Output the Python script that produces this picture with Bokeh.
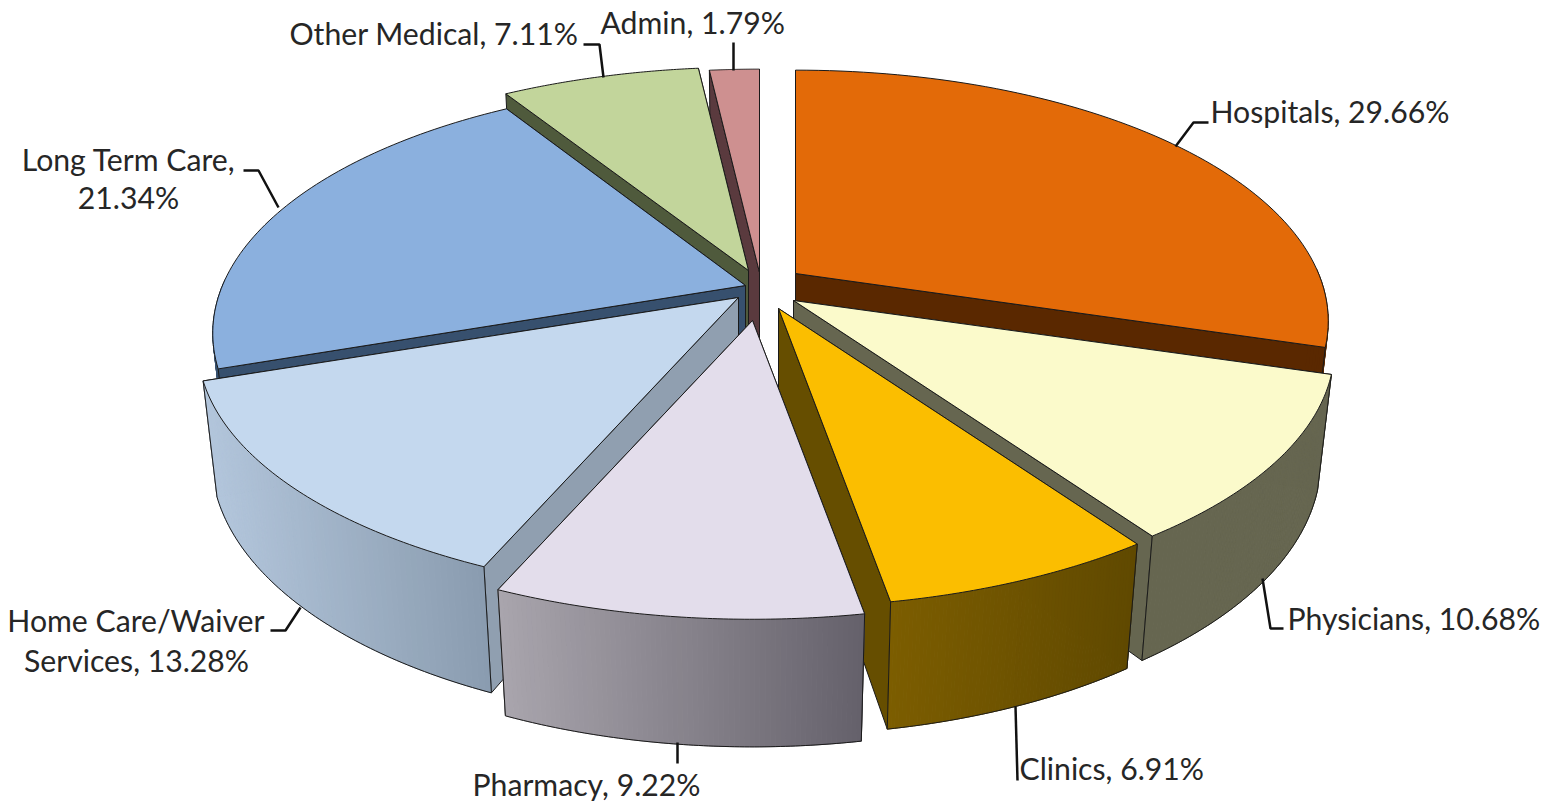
import math
import numpy as np
from bokeh.plotting import figure
from bokeh.embed import file_html
from bokeh.resources import INLINE
from bokeh.core.properties import value

# ---- data
categories = ["Hospitals", "Physicians", "Clinics", "Pharmacy",
              "Home Care/Waiver Services", "Long Term Care", "Other Medical", "Admin"]
shares = [29.66, 10.68, 6.91, 9.22, 13.28, 21.34, 7.11, 1.79]

# ---- style
top_colors = ["#E36A08", "#FBFACB", "#FBBE00", "#E3DDEB", "#C4D8EE", "#8BB0DE", "#C2D59B", "#CE9090"]
cut_colors = ["#5A2800", "#666650", "#664E00", "#6A6670", "#909FB0", "#37506E", "#4F5A3C", "#5A3A3E"]
wall_left  = ["#5A2800", "#666650", "#7C5D00", "#A9A5AD", "#B3C6DC", "#37506E", "#4F5A3C", "#5A3A3E"]
wall_right = ["#5A2800", "#666650", "#604900", "#65616B", "#8A9CAF", "#37506E", "#4F5A3C", "#5A3A3E"]
EDGE = "#1a1a1a"

# ---- layout (picture pixels)
CX, CY = 758, 287
explode = [(37, -14), (35, 13), (20, 21), (-6, 33), (-20, 10), (-13, -2), (-10, -17), (1, -15)]
radius = [0.985, 1.0, 1.0, 1.0, 1.0, 0.985, 1.0, 1.0]
RX, RY, K = 531.0, 242.0, 0.19
D, M = 114.0, 0.025

W, H = 1546, 803
p = figure(width=W, height=H, x_range=(0, W), y_range=(H, 0),
           output_backend="svg", toolbar_location=None, min_border=0,
           outline_line_color=None)
p.axis.visible = False
p.grid.visible = False
p.background_fill_color = "white"


def proj(ax, ay, th, rx=1.0, r=1.0, z=0.0):
    X, Y = r * np.sin(th), r * np.cos(th)
    s = 1.0 / (1.0 + K * Y + M * z)
    return ax + rx * RX * X * s, ay + (-RY * Y + D * z) * s


def mix(c1, c2, t):
    a = [int(c1[i:i + 2], 16) for i in (1, 3, 5)]
    b = [int(c2[i:i + 2], 16) for i in (1, 3, 5)]
    return "#%02x%02x%02x" % tuple(int(round(u + (v - u) * t)) for u, v in zip(a, b))


total = sum(shares)
edges = np.cumsum([0.0] + shares) / total * 2 * math.pi
mids = (edges[:-1] + edges[1:]) / 2
order = sorted(range(len(shares)), key=lambda i: -math.cos(mids[i]))

for i in order:
    a0, a1 = edges[i], edges[i + 1]
    ax, ay = CX + explode[i][0], CY + explode[i][1]
    rx = radius[i]
    th = np.linspace(a0, a1, 73)
    tx, ty = proj(ax, ay, th, rx)
    bx, by = proj(ax, ay, th, rx, z=1.0)
    cbx, cby = proj(ax, ay, 0.0, rx, r=0.0, z=1.0)
    # cut walls, the one facing away first
    for a in sorted((a0, a1), key=lambda v: -math.cos(v)):
        ex, ey = proj(ax, ay, a, rx)
        fx, fy = proj(ax, ay, a, rx, z=1.0)
        p.patch([ax, ex, fx, cbx], [ay, ey, fy, cby], fill_color=cut_colors[i],
                line_color=EDGE, line_width=1)
    # outer wall in strips (front-facing part only) for the left-to-right shading
    front = np.cos(th) < 0.03
    if front.sum() > 1:
        xmin, xmax = tx[front].min(), tx[front].max()
        idx = np.nonzero(front)[0]
        for k in idx[:-1]:
            t = ((tx[k] + tx[k + 1]) / 2 - xmin) / max(xmax - xmin, 1)
            c = mix(wall_left[i], wall_right[i], t)
            p.patch([tx[k], tx[k + 1], bx[k + 1], bx[k]], [ty[k], ty[k + 1], by[k + 1], by[k]],
                    fill_color=c, line_color=c, line_width=1)
        p.line(bx[front], by[front], line_color=EDGE, line_width=1)
        for k in (0, len(th) - 1):
            if front[k]:
                p.line([tx[k], bx[k]], [ty[k], by[k]], line_color=EDGE, line_width=1)
    # top
    p.patch(np.r_[ax, tx], np.r_[ay, ty], fill_color=top_colors[i], line_color=EDGE, line_width=1)

# ---- leader lines and labels
leaders = [
    ([1175, 1193, 1208], [146, 122, 122]),
    ([1262, 1270, 1283], [578, 628, 628]),
    ([1015, 1017], [706, 780]),
    ([677, 677], [742, 763]),
    ([300, 285, 270], [607, 630, 630]),
    ([278, 258, 243], [207, 170, 170]),
    ([603, 599, 583], [77, 44, 44]),
    ([733, 733], [42, 70]),
]
for lx, ly in leaders:
    p.line(lx, ly, line_color="#111111", line_width=2.5)

labels = [
    ("Hospitals, 29.66%", 1210, 110, "left"),
    ("Physicians, 10.68%", 1287, 617, "left"),
    ("Clinics, 6.91%", 1019, 767, "left"),
    ("Pharmacy, 9.22%", 472, 783, "left"),
    ("Home Care/Waiver", 264, 619, "right"),
    ("Services, 13.28%", 136, 659, "center"),
    ("Long Term Care,", 235, 158, "right"),
    ("21.34%", 128, 196, "center"),
    ("Other Medical, 7.11%", 578, 32, "right"),
    ("Admin, 1.79%", 600, 21, "left"),
]
for t, x, y, al in labels:
    p.text([x], [y], text=[t], text_font=value("Lato"), text_font_size="30.2px",
           text_color="#262626", text_align=al, text_baseline="middle")

open("out.html", "w").write(file_html(p, INLINE))
